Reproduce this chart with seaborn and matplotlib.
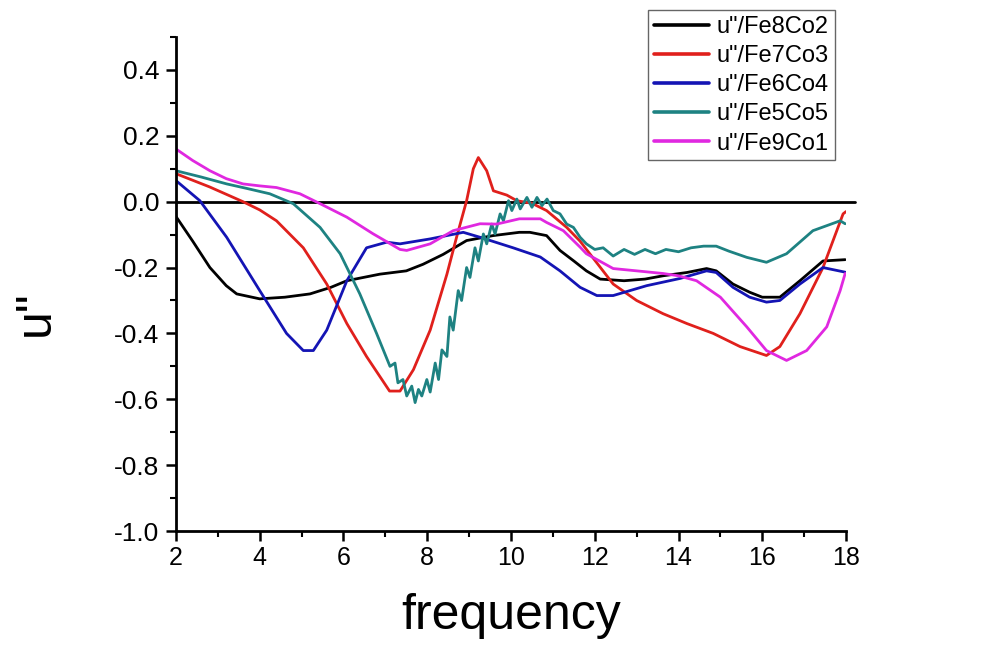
import matplotlib
matplotlib.use("Agg")
import matplotlib.pyplot as plt
import pandas as pd
import seaborn as sns
from matplotlib.ticker import MultipleLocator

# values
fe8co2_freq = [2.0, 2.4, 2.81, 3.2, 3.45, 4.0, 4.6, 5.2, 5.7, 6.08, 6.87, 7.5, 7.9, 8.38,
               8.94, 9.57, 10.2, 10.45, 10.85, 11.17, 11.5, 11.8, 12.13, 12.7, 13.2, 13.63,
               14.2, 14.67, 14.9, 15.3, 15.7, 16.0, 16.42, 16.9, 17.45, 17.98]
fe8co2_u = [-0.045, -0.12, -0.20, -0.255, -0.28, -0.295, -0.29, -0.28, -0.26, -0.24, -0.22,
            -0.21, -0.19, -0.16, -0.118, -0.103, -0.093, -0.093, -0.103, -0.148, -0.18, -0.21,
            -0.235, -0.24, -0.235, -0.225, -0.215, -0.203, -0.21, -0.25, -0.275, -0.29, -0.29,
            -0.24, -0.18, -0.176]

fe7co3_freq = [2.0, 2.8, 3.6, 4.0, 4.4, 5.04, 5.6, 6.08, 6.55, 7.1, 7.35, 7.67, 8.07, 8.47,
               8.7, 8.94, 9.1, 9.22, 9.42, 9.58, 9.9, 10.14, 10.5, 10.85, 11.33, 11.65, 12.44,
               13.0, 13.63, 14.2, 14.83, 15.47, 16.1, 16.42, 16.9, 17.45, 17.93, 18.0]
fe7co3_u = [0.085, 0.045, 0.0, -0.025, -0.058, -0.14, -0.25, -0.37, -0.47, -0.575, -0.575,
            -0.51, -0.39, -0.22, -0.108, 0.003, 0.1, 0.134, 0.094, 0.033, 0.02, 0.003, -0.005,
            -0.027, -0.078, -0.12, -0.25, -0.30, -0.34, -0.37, -0.40, -0.44, -0.467, -0.44,
            -0.34, -0.2, -0.037, -0.03]

fe6co4_freq = [2.0, 2.57, 3.21, 4.0, 4.64, 5.04, 5.28, 5.6, 6.08, 6.55, 7.03, 7.35, 8.07,
               8.86, 9.26, 10.05, 10.7, 11.17, 11.65, 12.05, 12.44, 13.24, 14.04, 14.67, 14.9,
               15.3, 15.7, 16.1, 16.42, 16.9, 17.45, 17.98]
fe6co4_u = [0.064, 0.003, -0.108, -0.27, -0.40, -0.452, -0.452, -0.39, -0.24, -0.14, -0.123,
            -0.128, -0.113, -0.093, -0.108, -0.14, -0.168, -0.21, -0.26, -0.285, -0.285,
            -0.255, -0.233, -0.21, -0.215, -0.26, -0.29, -0.305, -0.30, -0.25, -0.2, -0.214]

fe5co5_freq = [2.0, 2.6, 3.21, 3.7, 4.24, 4.8, 5.44, 5.92, 6.39, 6.79, 7.11, 7.23, 7.30, 7.42,
               7.51, 7.63, 7.71, 7.79, 7.87, 7.99, 8.07, 8.19, 8.27, 8.35, 8.47, 8.54, 8.62,
               8.74, 8.82, 8.94, 9.02, 9.14, 9.22, 9.34, 9.42, 9.54, 9.62, 9.74, 9.82, 9.94,
               10.02, 10.14, 10.22, 10.38, 10.5, 10.62, 10.74, 10.86, 11.01, 11.17, 11.33,
               11.49, 11.65, 11.8, 12.0, 12.2, 12.44, 12.7, 12.95, 13.2, 13.45, 13.7, 14.0,
               14.3, 14.6, 14.9, 15.2, 15.63, 16.1, 16.58, 17.21, 17.86, 17.98]
fe5co5_u = [0.094, 0.075, 0.054, 0.04, 0.024, -0.006, -0.078, -0.158, -0.28, -0.40, -0.50,
            -0.49, -0.55, -0.54, -0.59, -0.56, -0.61, -0.57, -0.59, -0.54, -0.578, -0.49,
            -0.54, -0.45, -0.47, -0.35, -0.39, -0.27, -0.30, -0.20, -0.23, -0.14, -0.18,
            -0.098, -0.128, -0.068, -0.098, -0.037, -0.058, 0.003, -0.027, 0.008, -0.022,
            0.013, -0.017, 0.013, -0.012, 0.008, -0.027, -0.037, -0.068, -0.078, -0.108,
            -0.128, -0.145, -0.14, -0.165, -0.145, -0.16, -0.145, -0.158, -0.145, -0.152,
            -0.14, -0.135, -0.135, -0.15, -0.169, -0.184, -0.158, -0.088, -0.058, -0.067]

fe9co1_freq = [2.0, 2.4, 2.81, 3.2, 3.6, 4.0, 4.4, 4.96, 5.44, 6.08, 6.7, 7.35, 7.51, 8.07,
               8.62, 9.26, 9.66, 10.2, 10.7, 10.85, 11.25, 11.65, 11.8, 12.44, 13.0, 13.63,
               14.0, 14.43, 15.0, 15.63, 16.1, 16.58, 17.06, 17.54, 17.86, 17.98]
fe9co1_u = [0.16, 0.125, 0.094, 0.07, 0.054, 0.048, 0.043, 0.024, -0.006, -0.047, -0.097,
            -0.145, -0.148, -0.128, -0.088, -0.067, -0.068, -0.052, -0.052, -0.063, -0.088,
            -0.138, -0.158, -0.203, -0.21, -0.218, -0.225, -0.24, -0.29, -0.38, -0.452,
            -0.482, -0.452, -0.38, -0.27, -0.218]

series_names = ['u"/Fe8Co2', 'u"/Fe7Co3', 'u"/Fe6Co4', 'u"/Fe5Co5', 'u"/Fe9Co1']
series_freq = [fe8co2_freq, fe7co3_freq, fe6co4_freq, fe5co5_freq, fe9co1_freq]
series_u = [fe8co2_u, fe7co3_u, fe6co4_u, fe5co5_u, fe9co1_u]
colors = ["#000000", "#E0201C", "#1414B4", "#1E8282", "#E028E0"]

frames = []
for name, freq, u in zip(series_names, series_freq, series_u):
    frames.append(pd.DataFrame({"frequency": freq, "u": u, "sample": name}))
df = pd.concat(frames, ignore_index=True)

sns.set_style("ticks")
plt.rcParams["font.family"] = ["Liberation Sans", "DejaVu Sans"]
plt.rcParams["text.color"] = "black"
plt.rcParams["axes.labelcolor"] = "black"
plt.rcParams["xtick.color"] = "black"
plt.rcParams["ytick.color"] = "black"

fig = plt.figure(figsize=(9.81, 6.45), dpi=100)
ax = fig.add_axes([0.1794, 0.1767, 0.683, 0.7659])

sns.lineplot(data=df, x="frequency", y="u", hue="sample", hue_order=series_names,
             palette=dict(zip(series_names, colors)), estimator=None, sort=False,
             linewidth=2.0, ax=ax, legend=True)

ax.axhline(0, xmin=0, xmax=1.013, color="black", linewidth=2.0, clip_on=False, zorder=1)

ax.set_xlim(2, 18)
ax.set_ylim(-1.0, 0.5)
ax.xaxis.set_major_locator(MultipleLocator(2))
ax.xaxis.set_minor_locator(MultipleLocator(1))
ax.set_yticks([-1.0, -0.8, -0.6, -0.4, -0.2, 0.0, 0.2, 0.4])
ax.yaxis.set_minor_locator(MultipleLocator(0.1))
ax.set_yticklabels([f"{v:.1f}" for v in ax.get_yticks()])

sns.despine(ax=ax)
for side in ["left", "bottom"]:
    ax.spines[side].set_linewidth(2.0)
    ax.spines[side].set_color("black")
ax.tick_params(which="major", direction="out", length=7, width=1.8, pad=5)
ax.tick_params(which="minor", direction="out", length=4, width=1.5)
ax.tick_params(axis="x", labelsize=18, pad=4)
ax.tick_params(axis="y", labelsize=19)

ax.set_xlabel("frequency", fontsize=36)
ax.xaxis.set_label_coords(0.5, -0.125)
ax.set_ylabel('u"', fontsize=36)
ax.yaxis.set_label_coords(-0.175, 0.44)

handles, labels = ax.get_legend_handles_labels()
for h in handles:
    h.set_linewidth(2.6)
leg = ax.legend(handles, labels, loc="upper right", bbox_to_anchor=(0.851, 0.984),
                bbox_transform=fig.transFigure, fontsize=17, frameon=True, fancybox=False,
                handlelength=2.3, handletextpad=0.35, labelspacing=0.3, borderpad=0.25,
                borderaxespad=0)
leg.get_frame().set_edgecolor("#404040")
leg.get_frame().set_linewidth(1.0)

fig.savefig("out.png", dpi=100)
plt.close(fig)
